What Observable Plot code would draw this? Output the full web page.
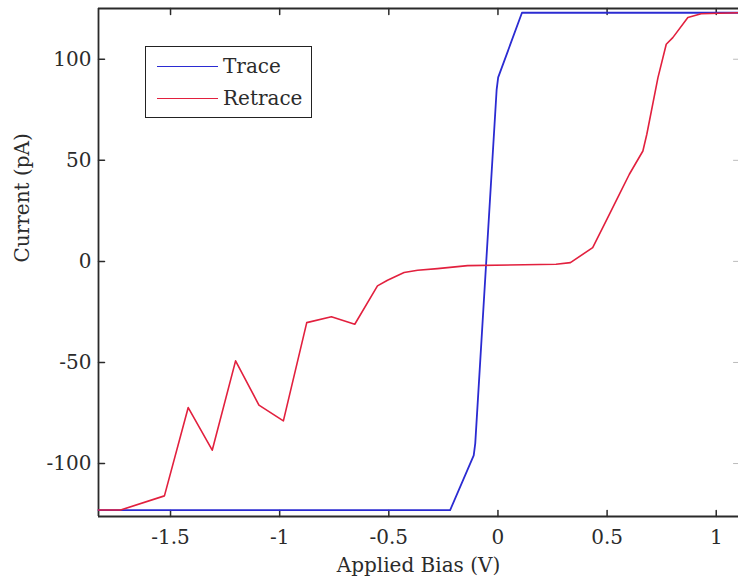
<!DOCTYPE html>
<html>
<head>
<meta charset="utf-8">
<script src="https://cdn.jsdelivr.net/npm/d3@7"></script>
<script src="https://cdn.jsdelivr.net/npm/@observablehq/plot@0.6"></script>
<style>
  html, body { margin: 0; padding: 0; background: #fff; overflow: hidden; }
  #wrap { position: relative; width: 738px; height: 580px; }
  #legend { position: absolute; left: 145px; top: 46px; width: 167px; height: 72px;
            border: 1.5px solid #222; background: #fff; box-sizing: border-box;
            font-family: "DejaVu Serif", serif; font-size: 20px; color: #2b2b2b; }
  .row { position: absolute; left: 0; height: 26px; display: flex; align-items: center; }
  .sw { display: inline-block; width: 61px; height: 0; margin-left: 11px; }
  .lab { margin-left: 5px; line-height: 26px; }
</style>
</head>
<body>
<div id="wrap">
  <div id="chart"></div>
  <div id="legend"></div>
</div>
<script>
// ---- data ----
const xDomain = [-1.83, 1.102];
const yDomain = [-126.2, 125.1];
const xTicks = [-1.5, -1, -0.5, 0, 0.5, 1];
const yTicks = [-100, -50, 0, 50, 100];

const seriesNames = ["Trace", "Retrace"];
const seriesColors = ["#2b2bd2", "#e2203e"];

const traceV = [-1.83, -0.219, -0.111, -0.104, -0.006, 0.001, 0.110, 1.102];
const traceI = [-123, -123, -96, -90, 85, 91, 123, 123];

const retraceV = [-1.83, -1.729, -1.528, -1.419, -1.309, -1.202, -1.095, -0.983, -0.876, -0.763,
                  -0.656, -0.552, -0.506, -0.43, -0.368, -0.277, -0.139, 0.266, 0.332, 0.434,
                  0.503, 0.556, 0.602, 0.664, 0.682, 0.733, 0.771, 0.801, 0.870, 0.931, 1.102];
const retraceI = [-123, -123, -116, -72.3, -93.4, -49.2, -71.1, -78.9, -30.3, -27.4,
                  -31.1, -12.1, -9.3, -5.5, -4.4, -3.6, -2.1, -1.4, -0.6, 6.8,
                  21.7, 33.2, 43.1, 54.6, 62.9, 90.9, 107.4, 110.7, 120.6, 122.5, 123];

const xLabel = "Applied Bias (V)";
const yLabel = "Current (pA)";

// ---- build tables ----
const trace = traceV.map((v, i) => ({v, c: traceI[i]}));
const retrace = retraceV.map((v, i) => ({v, c: retraceI[i]}));
const fmt = d => String(d);
const axisColor = "#2a2a2a";
const textColor = "#2b2b2b";

// inward tick shape for vectors
const tickShape = {draw(context, l) { context.moveTo(0, 0); context.lineTo(0, -l); }};

const chart = Plot.plot({
  width: 738,
  height: 580,
  marginLeft: 98,
  marginRight: 0,
  marginTop: 8,
  marginBottom: 64,
  x: {domain: xDomain},
  y: {domain: yDomain},
  style: {fontFamily: "'DejaVu Serif', serif", fontSize: "20px", color: textColor, background: "#fff"},
  marks: [
    // tick labels
    Plot.axisX(xTicks, {anchor: "bottom", tickSize: 0, tickPadding: 13, tickFormat: fmt, label: null, fontSize: 20, fill: textColor}),
    Plot.axisY(yTicks, {anchor: "left", tickSize: 0, tickPadding: 7, tickFormat: fmt, label: null, fontSize: 20, fill: textColor}),
    // inward tick marks
    Plot.vector(xTicks, {x: d => d, y: yDomain[0], length: 6, rotate: 0, anchor: "start", shape: tickShape, stroke: axisColor, strokeWidth: 1.5}),
    Plot.vector(xTicks, {x: d => d, y: yDomain[1], length: 6, rotate: 180, anchor: "start", shape: tickShape, stroke: axisColor, strokeWidth: 1.5}),
    Plot.vector(yTicks, {x: xDomain[0], y: d => d, length: 6, rotate: 90, anchor: "start", shape: tickShape, stroke: axisColor, strokeWidth: 1.5}),
    Plot.vector(yTicks, {x: xDomain[1], y: d => d, length: 5, rotate: -90, anchor: "start", shape: tickShape, stroke: "#bbb", strokeWidth: 1}),
    // frame lines
    Plot.ruleX([xDomain[0]], {stroke: axisColor, strokeWidth: 1.8}),
    Plot.ruleY([yDomain[0], yDomain[1]], {stroke: axisColor, strokeWidth: 1.8}),
    // data
    Plot.line(trace, {x: "v", y: "c", stroke: seriesColors[0], strokeWidth: 1.8}),
    Plot.line(retrace, {x: "v", y: "c", stroke: seriesColors[1], strokeWidth: 1.6}),
    // axis titles
    Plot.text([xLabel], {frameAnchor: "bottom", dy: 49, lineAnchor: "middle", fontSize: 20, fill: textColor}),
    Plot.text([yLabel], {frameAnchor: "left", dx: -76, rotate: -90, lineAnchor: "middle", fontSize: 20, fill: textColor})
  ]
});
document.getElementById("chart").appendChild(chart);

// ---- legend ----
const legend = document.getElementById("legend");
seriesNames.forEach((name, i) => {
  const row = document.createElement("div");
  row.className = "row";
  row.style.top = (6 + i * 32) + "px";
  const sw = document.createElement("span");
  sw.className = "sw";
  sw.style.borderTop = "1.5px solid " + seriesColors[i];
  const lab = document.createElement("span");
  lab.className = "lab";
  lab.textContent = name;
  row.appendChild(sw);
  row.appendChild(lab);
  legend.appendChild(row);
});
</script>
</body>
</html>
